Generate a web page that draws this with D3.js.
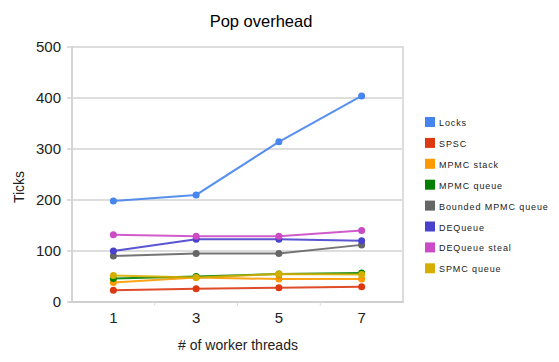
<!DOCTYPE html>
<meta charset="utf-8">
<body style="margin:0;background-color:white;">
<svg width="559" height="362"></svg>
<script src="https://d3js.org/d3.v7.min.js"></script>
<script>

// data
var threads = ["1", "3", "5", "7"];
var seriesNames = ["Locks", "SPSC", "MPMC stack", "MPMC queue", "Bounded MPMC queue", "DEQueue", "DEQueue steal", "SPMC queue"];
var seriesColors = ["#4684ee", "#dc3912", "#ff9900", "#008000", "#666666", "#4942cc", "#cb4ac5", "#d6ae00"];
var locks = [198, 210, 314, 404];
var spsc = [23, 26, 28, 30];
var mpmcStack = [38, 48, 45, 45];
var mpmcQueue = [46, 50, 55, 57];
var boundedQueue = [90, 95, 95, 112];
var dequeue = [100, 123, 123, 120];
var dequeueSteal = [132, 129, 129, 140];
var spmcQueue = [52, 48, 55, 54];
var yTicks = [0, 100, 200, 300, 400, 500];

var allValues = [locks, spsc, mpmcStack, mpmcQueue, boundedQueue, dequeue, dequeueSteal, spmcQueue];

var svg = d3.select("svg");
var font = "Arial, 'Liberation Sans', sans-serif";

var x = d3.scaleBand().domain(threads).range([72, 403]);
var y = d3.scaleLinear().domain([0, 500]).range([302, 47]);

// gridlines
svg.append('g').selectAll('line').data(yTicks).enter().append('line')
  .attr('x1', 67).attr('x2', 403)
  .attr('y1', function(d) { return y(d); })
  .attr('y2', function(d) { return y(d); })
  .attr('stroke', '#dddddd')
  .attr('stroke-width', 2);

// frame
svg.append('line').attr('x1', 72).attr('x2', 72).attr('y1', 46).attr('y2', 303)
  .attr('stroke', '#d4d4d4').attr('stroke-width', 2);
svg.append('line').attr('x1', 403).attr('x2', 403).attr('y1', 46).attr('y2', 303)
  .attr('stroke', '#dddddd').attr('stroke-width', 2);
svg.append('line').attr('x1', 69).attr('x2', 404).attr('y1', y(0)).attr('y2', y(0))
  .attr('stroke', '#d0d0d0').attr('stroke-width', 2);

// small ticks at band boundaries on x axis
svg.append('g').selectAll('line').data(threads.slice(1)).enter().append('line')
  .attr('x1', function(d) { return x(d); })
  .attr('x2', function(d) { return x(d); })
  .attr('y1', 302).attr('y2', 306)
  .attr('stroke', '#dddddd').attr('stroke-width', 1);

// y tick labels
svg.append('g').selectAll('text').data(yTicks).enter().append('text')
  .attr('x', 61)
  .attr('y', function(d) { return y(d) + 5; })
  .attr('text-anchor', 'end')
  .style('font-family', font).style('font-size', '15px').attr('fill', '#222')
  .text(function(d) { return d; });

// x tick labels
svg.append('g').selectAll('text').data(threads).enter().append('text')
  .attr('x', function(d) { return x(d) + x.bandwidth() / 2; })
  .attr('y', 323)
  .attr('text-anchor', 'middle')
  .style('font-family', font).style('font-size', '15px').attr('fill', '#222')
  .text(function(d) { return d; });

// titles
svg.append('text').attr('x', 261).attr('y', 27).attr('text-anchor', 'middle')
  .style('font-family', font).style('font-size', '16.5px').attr('fill', '#000')
  .text('Pop overhead');
svg.append('text').attr('x', 238).attr('y', 350).attr('text-anchor', 'middle')
  .style('font-family', font).style('font-size', '14px').attr('fill', '#222')
  .text('# of worker threads');
svg.append('text').attr('transform', 'translate(24,187)rotate(-90)').attr('text-anchor', 'middle')
  .style('font-family', font).style('font-size', '14px').attr('fill', '#222')
  .text('Ticks');

// lines + points
var line = d3.line()
  .x(function(d, i) { return x(threads[i]) + x.bandwidth() / 2; })
  .y(function(d) { return y(d); });

allValues.forEach(function(vals, k) {
  var g = svg.append('g');
  g.append('path').attr('d', line(vals))
    .attr('fill', 'none')
    .attr('stroke', seriesColors[k])
    .attr('stroke-opacity', 0.9)
    .attr('stroke-width', 2);
  g.selectAll('circle').data(vals).enter().append('circle')
    .attr('cx', function(d, i) { return x(threads[i]) + x.bandwidth() / 2; })
    .attr('cy', function(d) { return y(d); })
    .attr('r', 3.5)
    .attr('fill', seriesColors[k]);
});

// legend
var legend = svg.append('g').selectAll('g').data(seriesNames).enter().append('g')
  .attr('transform', function(d, i) { return 'translate(425,' + (117 + i * 20.9) + ')'; });
legend.append('rect').attr('width', 10).attr('height', 10)
  .attr('fill', function(d, i) { return seriesColors[i]; });
legend.append('text').attr('x', 14).attr('y', 9)
  .style('font-family', font).style('font-size', '9px').style('letter-spacing', '0.9px')
  .attr('fill', '#222')
  .text(function(d) { return d; });

</script>
</body>
